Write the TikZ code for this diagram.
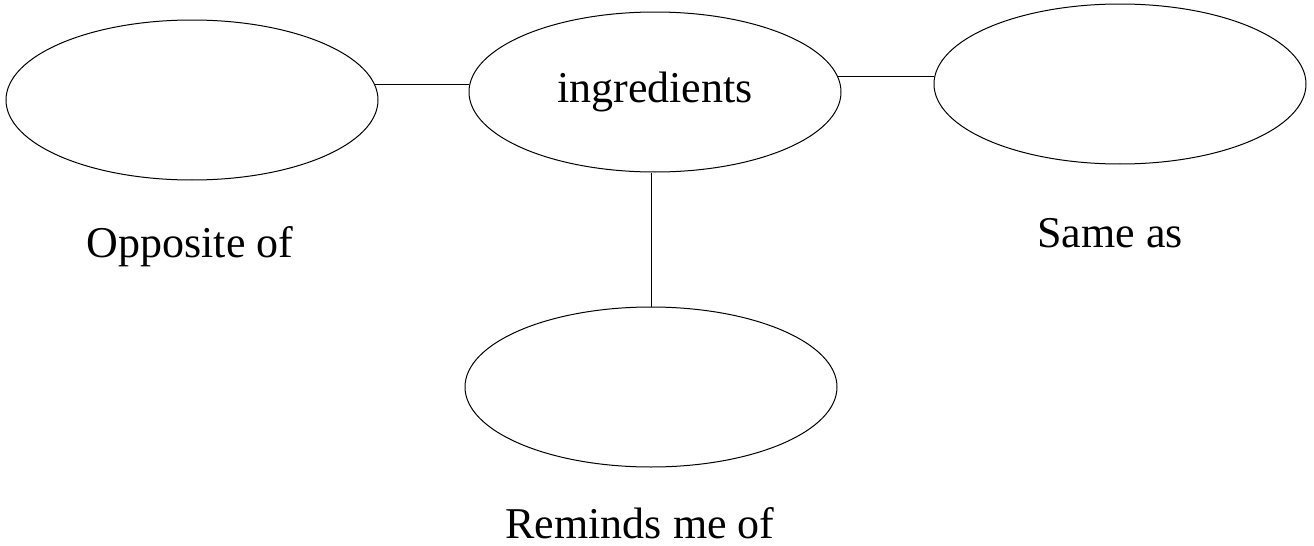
\documentclass[tikz,border=0pt]{standalone}
\usepackage{fontspec}
\setmainfont{Liberation Serif}
\usetikzlibrary{shapes.geometric}

\begin{document}
\begin{tikzpicture}[x=0.5pt, y=-0.5pt,
      bubble/.style={draw, ellipse, line width=0.5pt, inner sep=0pt,
        minimum width=186pt, minimum height=80pt, font=\fontsize{22}{26}\selectfont},
      caption/.style={anchor=base, font=\fontsize{22}{26}\selectfont},
      link/.style={line width=0.5pt}]
    \useasboundingbox (0,0) rectangle (1314,546);
    \node[bubble] (ing) at (655,92) {ingredients};
    \node[bubble] (opp) at (192,100) {};
    \node[bubble] (same) at (1120,84) {};
    \node[bubble] (remind) at (651,387) {};
    \node[caption] (oppText) at (190,257) {Opposite of};
    \node[caption] (sameText) at (1110,247) {Same as};
    \node[caption] (remindText) at (640,538) {Reminds me of};
    \draw[link] (opp.5) -- (opp.5 -| ing.west);
    \draw[link] (ing.5) -- (ing.5 -| same.west);
    \draw[link] (remind.north |- ing.south) -- (remind.north);
  \end{tikzpicture}
\end{document}
